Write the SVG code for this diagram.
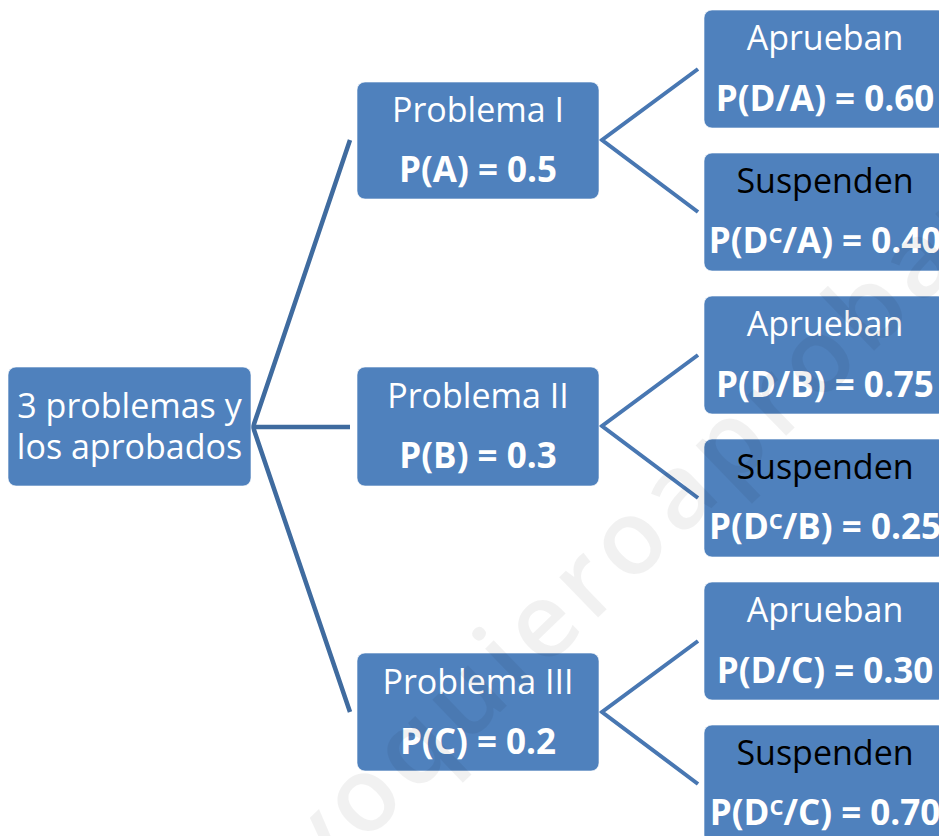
<svg xmlns="http://www.w3.org/2000/svg" width="939" height="836" viewBox="0 0 939 836">
<style>
.box{fill:#4F81BD;stroke:#ffffff;stroke-width:1;stroke-opacity:0.6}
.t{font-family:"Open Sans","Liberation Sans",sans-serif;font-size:34px;text-anchor:middle;fill:#ffffff}
.b{font-weight:bold;font-size:35px}
.k{fill:#000000}
.cl{stroke:#3F6B9F;stroke-width:4.5;fill:none}
.cr{stroke:#4877B2;stroke-width:4;fill:none}
.wm{font-family:"Open Sans","Liberation Sans",sans-serif;font-size:104px;font-weight:600;fill:#000000;fill-opacity:0.055;letter-spacing:7px}
</style>
<rect width="939" height="836" fill="#ffffff"/>
<g id="connectors">
<path class="cl" d="M350,140 L253,427 L350,712 M253,427 L350,427"/>
<path class="cr" d="M698,69 L602,140 L698,212"/>
<path class="cr" d="M698,355 L602,426 L698,498"/>
<path class="cr" d="M698,641 L602,712 L698,784"/>
</g>
<g id="root">
<rect class="box" x="8" y="367" width="243" height="119" rx="8"/>
<text class="t" x="129.5" y="418" font-size="35.5">3 problemas y</text>
<text class="t" x="129.5" y="459" font-size="35.5">los aprobados</text>
</g>
<g id="probA">
<rect class="box" x="357" y="82" width="242" height="117" rx="8"/>
<text class="t" x="478" y="122">Problema I</text>
<text class="t b" x="478" y="182">P(A) = 0.5</text>
</g>
<g id="probB">
<rect class="box" x="357" y="367" width="242" height="119" rx="8"/>
<text class="t" x="478" y="408">Problema II</text>
<text class="t b" x="478" y="468">P(B) = 0.3</text>
</g>
<g id="probC">
<rect class="box" x="357" y="653" width="242" height="118" rx="8"/>
<text class="t" x="478" y="694">Problema III</text>
<text class="t b" x="478" y="754">P(C) = 0.2</text>
</g>
<g id="apruebanA">
<rect class="box" x="704" y="10" width="242" height="118" rx="8"/>
<text class="t" x="825" y="50">Aprueban</text>
<text class="t b" x="825" y="111">P(D/A) = 0.60</text>
</g>
<g id="suspendenA">
<rect class="box" x="704" y="153" width="242" height="118" rx="8"/>
<text class="t k" x="825" y="193">Suspenden</text>
<text class="t b" x="825" y="253">P(D<tspan font-size="22" dy="-10">C</tspan><tspan dy="10">/A) = 0.40</tspan></text>
</g>
<g id="apruebanB">
<rect class="box" x="704" y="296" width="242" height="118" rx="8"/>
<text class="t" x="825" y="336">Aprueban</text>
<text class="t b" x="825" y="397">P(D/B) = 0.75</text>
</g>
<g id="suspendenB">
<rect class="box" x="704" y="439" width="242" height="118" rx="8"/>
<text class="t k" x="825" y="479">Suspenden</text>
<text class="t b" x="825" y="539">P(D<tspan font-size="22" dy="-10">C</tspan><tspan dy="10">/B) = 0.25</tspan></text>
</g>
<g id="apruebanC">
<rect class="box" x="704" y="582" width="242" height="118" rx="8"/>
<text class="t" x="825" y="622">Aprueban</text>
<text class="t b" x="825" y="683">P(D/C) = 0.30</text>
</g>
<g id="suspendenC">
<rect class="box" x="704" y="725" width="242" height="118" rx="8"/>
<text class="t k" x="825" y="765">Suspenden</text>
<text class="t b" x="825" y="825">P(D<tspan font-size="22" dy="-10">C</tspan><tspan dy="10">/C) = 0.70</tspan></text>
</g>
<text class="wm" x="318" y="888" transform="rotate(-44 318 888)">yoquieroaprobar</text>
</svg>
